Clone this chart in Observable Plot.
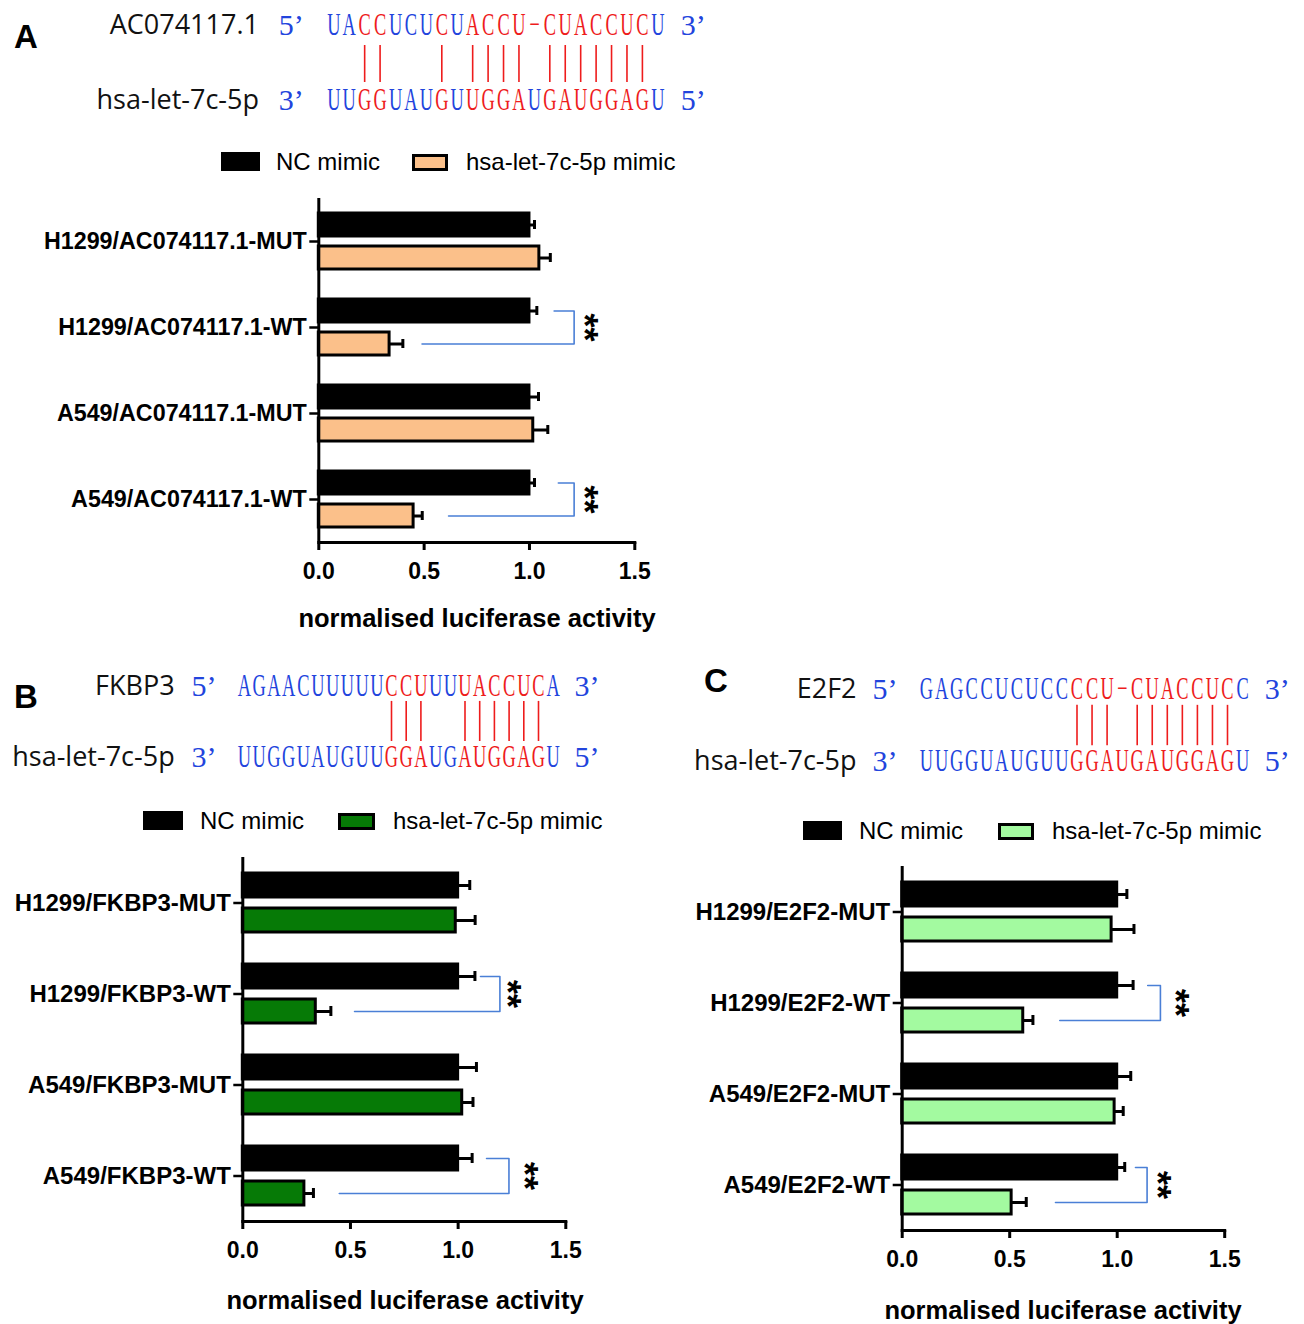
<!DOCTYPE html>
<html><head><meta charset="utf-8">
<script src="https://cdn.jsdelivr.net/npm/d3@7"></script>
<script src="https://cdn.jsdelivr.net/npm/@observablehq/plot@0.6"></script>
<style>
body{margin:0;background:#fff;}
#root{position:relative;width:1304px;height:1324px;overflow:hidden;background:#fff;font-family:"Liberation Sans",Arial,sans-serif;color:#000;}
.plet{position:absolute;font-weight:bold;font-size:33px;line-height:33px;transform:translate(-50%,-50%);}
.lgtxt{position:absolute;font-size:24px;line-height:30px;white-space:nowrap;}
.sw{position:absolute;box-sizing:border-box;}
.xlab{position:absolute;font-weight:bold;font-size:25.5px;line-height:30px;transform:translate(-50%,-50%);white-space:nowrap;}
svg{overflow:visible;}
</style></head><body><div id="root"></div>
<script>
// ---------------- DATA ----------------
const seriesNames = ["NC mimic", "hsa-let-7c-5p mimic"];
const mirna = "hsa-let-7c-5p";
const mirnaSeq = "UUGGUAUGUUGGAUGAUGGAGU";

// Panel A
const aTarget = "AC074117.1";
const aTargetSeq = "UACCUCUCUACCU−CUACCUCU";
const aPairs = [2, 3, 7, 9, 10, 11, 12, 14, 15, 16, 17, 18, 19, 20];
const aTargetRed = [2, 3, 7, 9, 10, 11, 12, 13, 14, 15, 16, 17, 18, 19, 20];
const aMirRed = [2, 3, 7, 9, 10, 11, 12, 14, 15, 16, 17, 18, 19, 20];
const aCategories = ["H1299/AC074117.1-MUT", "H1299/AC074117.1-WT", "A549/AC074117.1-MUT", "A549/AC074117.1-WT"];
const aNC = [1.0, 1.0, 1.0, 1.0];
const aNCErr = [0.024, 0.035, 0.043, 0.024];
const aMimic = [1.047, 0.336, 1.018, 0.45];
const aMimicErr = [0.052, 0.063, 0.069, 0.041];
const aSigCats = ["H1299/AC074117.1-WT", "A549/AC074117.1-WT"];
const aSigTop = [1.117, 1.137];
const aSigRight = [1.212, 1.212];
const aSigBottom = [0.49, 0.616];
const aSigStar = [1.283, 1.283];

// Panel B
const bTarget = "FKBP3";
const bTargetSeq = "AGAACUUUUUCCUUUUACCUCA";
const bPairs = [10, 11, 12, 15, 16, 17, 18, 19, 20];
const bTargetRed = [10, 11, 12, 15, 16, 17, 18, 19, 20];
const bMirRed = [10, 11, 12, 15, 16, 17, 18, 19, 20];
const bCategories = ["H1299/FKBP3-MUT", "H1299/FKBP3-WT", "A549/FKBP3-MUT", "A549/FKBP3-WT"];
const bNC = [1.0, 1.0, 1.0, 1.0];
const bNCErr = [0.054, 0.078, 0.085, 0.065];
const bMimic = [0.989, 0.339, 1.019, 0.286];
const bMimicErr = [0.09, 0.07, 0.05, 0.042];
const bSigCats = ["H1299/FKBP3-WT", "A549/FKBP3-WT"];
const bSigTop = [1.104, 1.132];
const bSigRight = [1.194, 1.236];
const bSigBottom = [0.519, 0.448];
const bSigStar = [1.251, 1.332];

// Panel C
const cTarget = "E2F2";
const cTargetSeq = "GAGCCUCUCCCCU−CUACCUCC";
const cPairs = [10, 11, 12, 14, 15, 16, 17, 18, 19, 20];
const cTargetRed = [10, 11, 12, 13, 14, 15, 16, 17, 18, 19, 20];
const cMirRed = [10, 11, 12, 13, 14, 15, 16, 17, 18, 19, 20];
const cCategories = ["H1299/E2F2-MUT", "H1299/E2F2-WT", "A549/E2F2-MUT", "A549/E2F2-WT"];
const cNC = [1.0, 1.0, 1.0, 1.0];
const cNCErr = [0.045, 0.074, 0.063, 0.035];
const cMimic = [0.974, 0.563, 0.988, 0.509];
const cMimicErr = [0.104, 0.045, 0.04, 0.068];
const cSigCats = ["H1299/E2F2-WT", "A549/E2F2-WT"];
const cSigTop = [1.142, 1.085];
const cSigRight = [1.201, 1.139];
const cSigBottom = [0.733, 0.713];
const cSigStar = [1.294, 1.209];

const xTicks = [0, 0.5, 1.0, 1.5];
const xLabel = "normalised luciferase activity";

// ---------------- STYLE ----------------
const RED = "#ee1c1c";
const BLUE = "#2244dd";
const BRACKET = "#4a7fd6";
const SEQ_FONT_SIZE = 20;
const root = document.getElementById("root");

function place(el, left, top) {
  el.style.position = "absolute";
  el.style.left = left + "px";
  el.style.top = top + "px";
  root.appendChild(el);
}

// condense the sequence glyphs (narrow, tall serif letters as in the figure)
function reshape(svg, sx, sy) {
  const groups = [...svg.querySelectorAll("g")].filter(g =>
    g.getAttribute("aria-label") === "seq" || g.getAttribute("font-size") === String(SEQ_FONT_SIZE));
  const texts = new Set();
  groups.forEach(g => g.querySelectorAll("text").forEach(t => texts.add(t)));
  texts.forEach(t => {
    const tr = t.getAttribute("transform");
    const x = t.getAttribute("x"), y = t.getAttribute("y");
    let base = tr || "";
    if (x != null || y != null) {
      base = `translate(${x || 0},${y || 0}) ` + base;
      t.removeAttribute("x"); t.removeAttribute("y");
    }
    t.setAttribute("transform", base + ` scale(${sx},${sy})`);
  });
}

function header(seq, L) {
  const letters = [];
  [...seq.targetSeq].forEach((ch, i) => letters.push({i, row: 0, ch, color: seq.targetRed.includes(i) ? RED : BLUE}));
  [...mirnaSeq].forEach((ch, i) => letters.push({i, row: 1, ch, color: seq.mirRed.includes(i) ? RED : BLUE}));
  const n = mirnaSeq.length;
  const primes = [
    {i: -2.75, row: 0, t: "5’"}, {i: n + 1.3, row: 0, t: "3’"},
    {i: -2.75, row: 1, t: "3’"}, {i: n + 1.3, row: 1, t: "5’"}
  ];
  const names = [{row: 0, t: seq.target}, {row: 1, t: mirna}];
  const svg = Plot.plot({
    width: L.w, height: L.h, margin: 0,
    style: {background: "transparent", overflow: "visible"},
    color: {type: "identity"},
    x: {domain: [0, n - 1], range: [L.x0 - L.left, L.x0 - L.left + L.pitch * (n - 1)], axis: null},
    y: {domain: [0, 1], range: [L.rows[0] - L.top, L.rows[1] - L.top], axis: null},
    marks: [
      Plot.ruleX(seq.pairs, {x: d => d, y1: L.lines[0], y2: L.lines[1], stroke: RED, strokeWidth: 1.6}),
      Plot.text(letters, {x: "i", y: "row", text: "ch", fill: "color", fontFamily: "Liberation Serif", fontSize: SEQ_FONT_SIZE, ariaLabel: "seq", lineAnchor: "bottom", dy: 9}),
      Plot.text(primes, {x: "i", y: "row", text: "t", fill: BLUE, fontFamily: "Liberation Serif", fontSize: 30}),
      Plot.text(names, {x: L.nameIdx, y: "row", text: "t", fill: "#111", textAnchor: "end", fontFamily: "Open Sans", fontSize: 27})
    ]
  });
  reshape(svg, 0.92, 1.6);
  place(svg, L.left, L.top);
}

function legend(fill, L) {
  const s1 = document.createElement("div"); s1.className = "sw";
  Object.assign(s1.style, {width: L.s1[2] + "px", height: L.s1[3] + "px", background: "#000"});
  place(s1, L.s1[0], L.s1[1]);
  const t1 = document.createElement("div"); t1.className = "lgtxt"; t1.textContent = seriesNames[0];
  place(t1, L.t1, L.cy - 15);
  const s2 = document.createElement("div"); s2.className = "sw";
  Object.assign(s2.style, {width: L.s2[2] + "px", height: L.s2[3] + "px", background: fill, border: "3px solid #000"});
  place(s2, L.s2[0], L.s2[1]);
  const t2 = document.createElement("div"); t2.className = "lgtxt"; t2.textContent = seriesNames[1];
  place(t2, L.t2, L.cy - 15);
}

function bars(D, fill, L) {
  const rows = [];
  D.cats.forEach((c, i) => {
    rows.push({cat: c, series: seriesNames[0], value: D.nc[i], err: D.ncErr[i]});
    rows.push({cat: c, series: seriesNames[1], value: D.mimic[i], err: D.mimicErr[i]});
  });
  const bracket = [];
  D.sigCats.forEach((c, i) => {
    bracket.push({cat: c, k: i, x: D.sigTop[i], s: seriesNames[0]});
    bracket.push({cat: c, k: i, x: D.sigRight[i], s: seriesNames[0]});
    bracket.push({cat: c, k: i, x: D.sigRight[i], s: seriesNames[1]});
    bracket.push({cat: c, k: i, x: D.sigBottom[i], s: seriesNames[1]});
  });
  const stars = D.sigCats.map((c, i) => ({cat: c, x: D.sigStar[i]}));
  const svg = Plot.plot({
    width: L.w, height: L.h,
    marginLeft: L.ml, marginRight: L.mr, marginTop: L.mt, marginBottom: L.mb,
    style: {background: "transparent", fontFamily: "Liberation Sans, Arial, sans-serif", fontSize: "24px", overflow: "visible"},
    x: {domain: [0, 1.5]},
    y: {domain: seriesNames, axis: null, paddingInner: L.pi, paddingOuter: L.po},
    fy: {domain: D.cats, padding: 0},
    color: {domain: seriesNames, range: ["#000", fill]},
    marks: [
      Plot.barX(rows, {x: "value", y: "series", fy: "cat", fill: "series", stroke: "#000", strokeWidth: 3}),
      Plot.ruleY(rows, {x1: "value", x2: d => d.value + d.err, y: "series", fy: "cat", stroke: "#000", strokeWidth: 3}),
      Plot.tickX(rows, {x: d => d.value + d.err, y: "series", fy: "cat", stroke: "#000", strokeWidth: 3, insetTop: 7, insetBottom: 7}),
      Plot.line(bracket, {x: "x", y: "s", fy: "cat", z: "k", stroke: BRACKET, strokeWidth: 1.6}),
      Plot.text(stars, {x: "x", fy: "cat", text: () => "**", rotate: 90, dx: -6, fontSize: 36, fontWeight: "bold", fill: "#000"}),
      Plot.ruleX([0], {stroke: "#000", strokeWidth: 3}),
      Plot.frame({anchor: "bottom", facetAnchor: "bottom", stroke: "#000", strokeWidth: 3}),
      Plot.axisX({ticks: xTicks, tickFormat: d3.format(".1f"), tickSize: 8, tickPadding: 12, stroke: "#000", strokeWidth: 3, fill: "#000", fontSize: 23, fontWeight: "bold", label: null}),
      Plot.axisFy({anchor: "left", tickSize: 9, tickPadding: 3, stroke: "#000", strokeWidth: 2.5, fill: "#000", fontSize: L.fs, fontWeight: "bold", label: null})
    ]
  });
  place(svg, L.left, L.top);
  const xl = document.createElement("div"); xl.className = "xlab"; xl.textContent = xLabel;
  place(xl, L.lab[0], L.lab[1]);
}

function panelLetter(t, x, y) {
  const d = document.createElement("div"); d.className = "plet"; d.textContent = t;
  place(d, x, y);
}

// ---------------- PANEL A ----------------
panelLetter("A", 26, 36);
header({target: aTarget, targetSeq: aTargetSeq, pairs: aPairs, targetRed: aTargetRed, mirRed: aMirRed},
  {left: 0, top: 0, w: 720, h: 125, x0: 333.3, pitch: 15.43, rows: [25, 100], lines: [0.267, 0.76], nameIdx: -4.85});
legend("#fbc08a", {s1: [221, 152, 39, 19], t1: 276, s2: [412, 154, 36, 17], t2: 466, cy: 162});
bars({cats: aCategories, nc: aNC, ncErr: aNCErr, mimic: aMimic, mimicErr: aMimicErr,
      sigCats: aSigCats, sigTop: aSigTop, sigRight: aSigRight, sigBottom: aSigBottom, sigStar: aSigStar},
  "#fbc08a",
  {left: 0, top: 180, w: 700, h: 420, ml: 318.3, mr: 65.7, mt: 18, mb: 58, pi: 0.31, po: 0.42, fs: 23.3, lab: [477, 618]});

// ---------------- PANEL B ----------------
panelLetter("B", 26, 696);
header({target: bTarget, targetSeq: bTargetSeq, pairs: bPairs, targetRed: bTargetRed, mirRed: bMirRed},
  {left: 0, top: 650, w: 640, h: 130, x0: 244, pitch: 14.7, rows: [686, 757], lines: [0.21, 0.775], nameIdx: -4.75});
legend("#067a06", {s1: [143, 811, 40, 19], t1: 200, s2: [338, 813, 37, 17], t2: 393, cy: 821});
bars({cats: bCategories, nc: bNC, ncErr: bNCErr, mimic: bMimic, mimicErr: bMimicErr,
      sigCats: bSigCats, sigTop: bSigTop, sigRight: bSigRight, sigBottom: bSigBottom, sigStar: bSigStar},
  "#067a06",
  {left: 0, top: 840, w: 620, h: 440, ml: 242.3, mr: 54.7, mt: 17, mb: 59, pi: 0.314, po: 0.457, fs: 24, lab: [405, 1300]});

// ---------------- PANEL C ----------------
panelLetter("C", 716, 680);
header({target: cTarget, targetSeq: cTargetSeq, pairs: cPairs, targetRed: cTargetRed, mirRed: cMirRed},
  {left: 680, top: 650, w: 624, h: 135, x0: 926, pitch: 15.05, rows: [689, 761], lines: [0.22, 0.78], nameIdx: -4.65});
legend("#a3faa0", {s1: [803, 821, 39, 19], t1: 859, s2: [998, 823, 36, 17], t2: 1052, cy: 831});
bars({cats: cCategories, nc: cNC, ncErr: cNCErr, mimic: cMimic, mimicErr: cMimicErr,
      sigCats: cSigCats, sigTop: cSigTop, sigRight: cSigRight, sigBottom: cSigBottom, sigStar: cSigStar},
  "#a3faa0",
  {left: 650, top: 845, w: 654, h: 440, ml: 251.7, mr: 79.8, mt: 20, mb: 54, pi: 0.314, po: 0.457, fs: 24, lab: [1063, 1310]});
</script></body></html>
